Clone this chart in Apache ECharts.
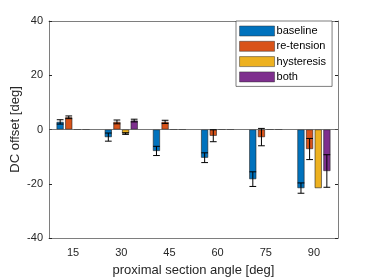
<!DOCTYPE html>
<html><head><meta charset="utf-8">
<script src="https://cdn.jsdelivr.net/npm/echarts@6/dist/echarts.min.js"></script>
<style>html,body{margin:0;padding:0;background:#fff}#c{width:374px;height:278px}</style>
</head><body><div id="c"></div>
<script>
const categories = ['15','30','45','60','75','90'];
const seriesNames = ['baseline','re-tension','hysteresis','both'];
const baseline = [2.8, -2.8, -7.9, -10.4, -18.3, -21.6];
const baselineErr = [0.8, 1.5, 1.7, 1.8, 2.7, 1.9];
const retension = [4.5, 2.8, 2.8, -2.3, -2.8, -7.2];
const retensionErr = [0.5, 0.7, 0.6, 2.2, 3.2, 3.9];
const hysteresis = [0, -1.5, 0, 0, 0, -21.6];
const hysteresisErr = [0, 0.3, 0, 0, 0, 0];
const both = [0, 3.3, 0, 0, 0, -15.3];
const bothErr = [0, 0.5, 0, 0, 0, 6.0];
const yTicks = [-40, -20, 0, 20, 40];

const colors = ['#0072BD', '#D95319', '#EDB120', '#7E2F8E'];
const values = [baseline, retension, hysteresis, both];
const errors = [baselineErr, retensionErr, hysteresisErr, bothErr];
const axisColor = '#262626';
const font = 'Liberation Sans, Arial, sans-serif';

function errSeries(i) {
  return {
    type: 'custom', xAxisIndex: 0, yAxisIndex: 0, z: 10, silent: true,
    data: values[i].map((v, k) => [k, v, errors[i][k]]),
    renderItem: (params, api) => {
      const k = api.value(0), v = api.value(1), e = api.value(2);
      if (!e) return null;
      const bw = api.size([1, 0])[0];
      const off = (i - 1.5) * bw * 0.179;
      const t = api.coord([k, v + e]), b = api.coord([k, v - e]);
      const x = t[0] + off, cw = bw * 0.07;
      const st = {stroke: '#000', lineWidth: 1};
      return {type: 'group', children: [
        {type: 'line', shape: {x1: x, y1: t[1], x2: x, y2: b[1]}, style: st},
        {type: 'line', shape: {x1: x - cw, y1: t[1], x2: x + cw, y2: t[1]}, style: st},
        {type: 'line', shape: {x1: x - cw, y1: b[1], x2: x + cw, y2: b[1]}, style: st}
      ]};
    }
  };
}

const series = [];
seriesNames.forEach((n, i) => {
  series.push({
    name: n, type: 'bar', data: values[i], barWidth: '14.6%', barGap: '23%',
    itemStyle: {color: colors[i], borderColor: '#222', borderWidth: 0.6},
    emphasis: {disabled: true}
  });
});
seriesNames.forEach((n, i) => series.push(errSeries(i)));

const chart = echarts.init(document.getElementById('c'), null, {renderer: 'canvas'});
chart.setOption({
  animation: false,
  backgroundColor: '#fff',
  color: colors,
  grid: {left: 49, right: 36, top: 21, bottom: 40, containLabel: false, outerBoundsMode: 'none'},
  legend: {
    data: seriesNames, orient: 'vertical', left: 236, top: 21,
    itemWidth: 35, itemHeight: 10, itemGap: 4.3, icon: 'rect',
    itemStyle: {borderWidth: 0.5, borderColor: '#333'},
    padding: [4.5, 6, 4, 3.3], backgroundColor: '#fff',
    borderColor: axisColor, borderWidth: 0.6,
    textStyle: {fontFamily: font, fontSize: 11, color: '#000', padding: [0, 0, 0, -3]},
    selectedMode: false
  },
  xAxis: [{
    type: 'category', data: categories, position: 'bottom',
    name: 'proximal section angle [deg]', nameLocation: 'middle', nameGap: 26, nameMoveOverlap: false,
    nameTextStyle: {fontFamily: font, fontSize: 13, color: axisColor},
    axisLine: {onZero: false, lineStyle: {color: axisColor, width: 0.6}},
    axisTick: {alignWithLabel: true, inside: true, length: 3, lineStyle: {color: axisColor}},
    axisLabel: {fontFamily: font, fontSize: 11, color: axisColor, margin: 9},
    splitLine: {show: false}
  }, {
    type: 'category', data: categories, position: 'top',
    axisLine: {onZero: false, lineStyle: {color: axisColor, width: 0.6}},
    axisTick: {alignWithLabel: true, inside: true, length: 3, lineStyle: {color: axisColor}},
    axisLabel: {show: false}, splitLine: {show: false}
  }],
  yAxis: [{
    type: 'value', min: yTicks[0], max: yTicks[yTicks.length - 1], interval: 20,
    name: 'DC offset [deg]', nameLocation: 'middle', nameGap: 27, nameRotate: 90, nameMoveOverlap: false,
    nameTextStyle: {fontFamily: font, fontSize: 13, color: axisColor},
    axisLine: {show: true, lineStyle: {color: axisColor, width: 0.6}},
    axisTick: {show: true, inside: true, length: 3, lineStyle: {color: axisColor}},
    axisLabel: {fontFamily: font, fontSize: 11, color: axisColor, margin: 6},
    splitLine: {show: false}
  }, {
    type: 'value', min: yTicks[0], max: yTicks[yTicks.length - 1], interval: 20, position: 'right',
    axisLine: {show: true, lineStyle: {color: axisColor, width: 0.6}},
    axisTick: {show: true, inside: true, length: 3, lineStyle: {color: axisColor}},
    axisLabel: {show: false}, splitLine: {show: false}
  }],
  series: series.concat([{
    type: 'line', data: [], yAxisIndex: 0, xAxisIndex: 0,
    markLine: {silent: true, symbol: 'none', label: {show: false},
      lineStyle: {color: '#555', width: 0.8, type: 'solid'}, data: [{yAxis: 0}]}
  }])
});
</script></body></html>
